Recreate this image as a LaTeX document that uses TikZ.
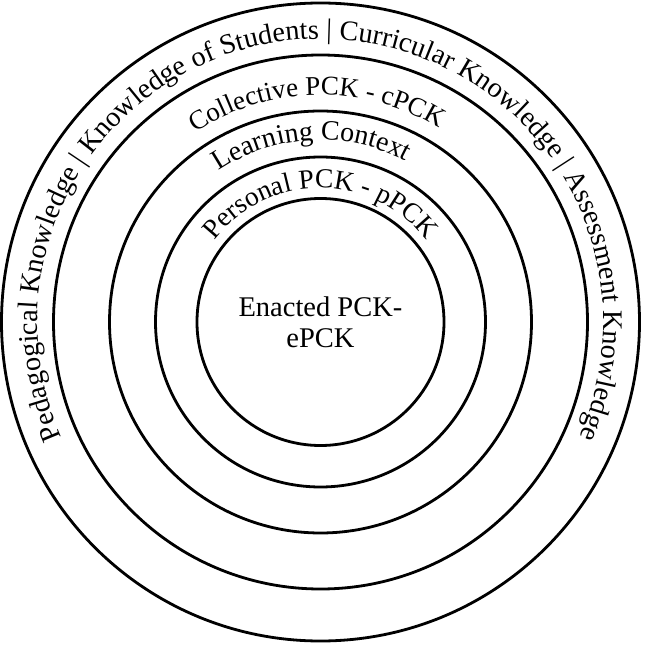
\documentclass[tikz,border=0pt]{standalone}
\usepackage{fontspec}
\setmainfont{Liberation Serif}
\usetikzlibrary{decorations.text}

\begin{document}
\begin{tikzpicture}[x=1pt, y=1pt,
  ring/.style={draw,circle,line width=2.8pt,inner sep=0pt},
  arctext/.style={decorate,decoration={text along path,text align=center,
    text format delimiters={[}{]},text={#1}}}]
  \useasboundingbox (-320.5,-323) rectangle (324.5,322);
  % rings, outer to inner
  \node[ring,minimum size=638pt] (pk) at (0,0) {};
  \node[ring,minimum size=534pt] (cpck) at (0,0) {};
  \node[ring,minimum size=422pt] (ctx) at (0,0) {};
  \node[ring,minimum size=330pt] (ppck) at (0,0) {};
  \node[ring,minimum size=247pt] (epck) at (0,0) {};
  \node[align=center,font=\fontsize{28.5}{31}\selectfont] (core) at (epck.center) {Enacted PCK-\\ePCK};
  % labels along the rings
  \path[arctext={[\fontsize{28.3}{30}\selectfont]Pedagogical Knowledge | Knowledge of Students | Curricular Knowledge | Assessment Knowledge}]
    (260:283) arc[start angle=260,end angle=-80,radius=283];
  \path[arctext={[\fontsize{27}{30}\selectfont]Collective PCK - cPCK}]
    (261:227) arc[start angle=261,end angle=-79,radius=227];
  \path[arctext={[\fontsize{28}{30}\selectfont]Learning Context}]
    (263:182) arc[start angle=263,end angle=-77,radius=182];
  \path[arctext={[\fontsize{27.5}{30}\selectfont]Personal PCK - pPCK}]
    (260:134) arc[start angle=260,end angle=-80,radius=134];
\end{tikzpicture}
\end{document}
